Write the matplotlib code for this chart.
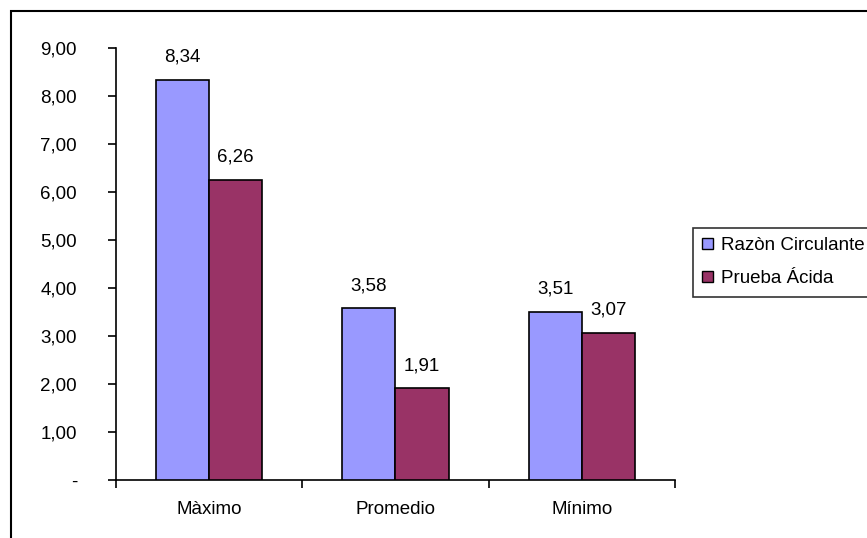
import matplotlib
matplotlib.use("Agg")
import matplotlib.pyplot as plt
from matplotlib.patches import Rectangle
import numpy as np

categories = ["Màximo", "Promedio", "Mínimo"]
series_names = ["Razòn Circulante", "Prueba Ácida"]
razon_circulante = [8.34, 3.58, 3.51]
prueba_acida = [6.26, 1.91, 3.07]
y_ticks = [0, 1, 2, 3, 4, 5, 6, 7, 8, 9]
y_tick_labels = ["-", "1,00", "2,00", "3,00", "4,00", "5,00", "6,00", "7,00", "8,00", "9,00"]

colors = ["#9999FF", "#993366"]

plt.rcParams["font.family"] = ["Liberation Sans", "DejaVu Sans"]
FS = 13.5
W, H = 867, 538
fig = plt.figure(figsize=(W / 100, H / 100), dpi=100)
fig.patch.set_facecolor("white")

# axes placement in pixels
left, right, top, bottom = 116, 675, 48, 480
ax = fig.add_axes([left / W, 1 - bottom / H, (right - left) / W, (bottom - top) / H])

x = np.arange(len(categories))
bw = 0.2857
for i, (vals, c, name) in enumerate(zip([razon_circulante, prueba_acida], colors, series_names)):
    offs = (i - 0.5) * bw
    ax.bar(x + offs, vals, width=bw, color=c, edgecolor="black", linewidth=1.2, label=name, zorder=3)
    for xi, v in zip(x + offs, vals):
        ax.annotate(f"{v:.2f}".replace(".", ","), (xi, v), xytext=(0, 10), textcoords="offset points",
                    ha="center", va="bottom", fontsize=FS)

ax.set_xlim(-0.5, len(categories) - 0.5)
ax.set_ylim(0, 9)
ax.set_yticks(y_ticks)
ax.set_yticklabels(y_tick_labels, fontsize=FS)
ax.set_xticks(x)
ax.set_xticklabels(categories, fontsize=FS)
ax.tick_params(axis="x", length=0, pad=15)
ax.set_xticks(np.arange(len(categories) + 1) - 0.5, minor=True)
ax.tick_params(axis="x", which="minor", length=6, width=1.2, direction="out")
ax.tick_params(axis="y", length=6, width=1.2, direction="out", pad=22)
for s in ["top", "right"]:
    ax.spines[s].set_visible(False)
for s in ["left", "bottom"]:
    ax.spines[s].set_linewidth(1.2)

leg = fig.legend(loc="upper left", bbox_to_anchor=(693 / W, 1 - 228 / H), frameon=True, fancybox=False,
                 edgecolor="black", fontsize=FS, handlelength=0.55, handleheight=0.55, handletextpad=0.45,
                 borderpad=0.5, labelspacing=0.85, borderaxespad=0)
leg.get_frame().set_linewidth(1.2)
for h in leg.legend_handles:
    h.set_edgecolor("black")
    h.set_linewidth(1.0)

# outer chart-area border
fig.add_artist(Rectangle((11 / W, -0.1), 1.2, 1 - 11 / H + 0.1, transform=fig.transFigure,
                         fill=False, edgecolor="black", linewidth=1.5))

fig.savefig("out.png", dpi=100)
